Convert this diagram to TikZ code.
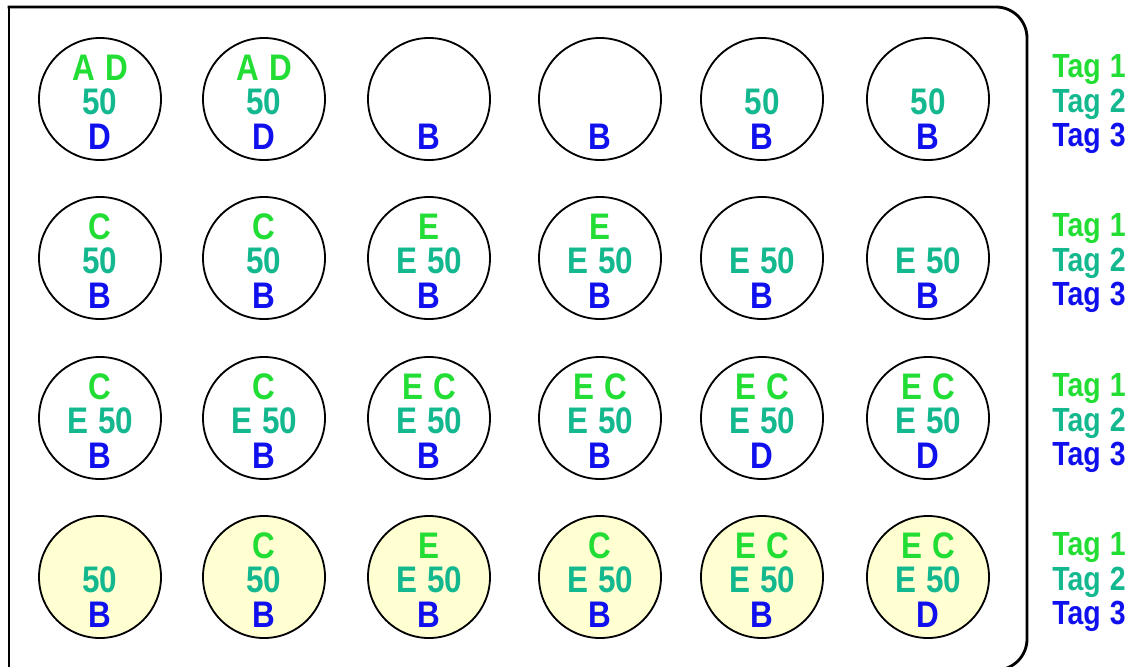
\documentclass[tikz,border=0pt]{standalone}
\usepackage{fontspec}
\setmainfont{Liberation Sans}[FakeStretch=0.85, WordSpace=1.15]
\usetikzlibrary{calc}
\definecolor{tagone}{RGB}{34,221,51}
\definecolor{tagtwo}{RGB}{19,184,143}
\definecolor{tagthree}{RGB}{16,16,238}
\definecolor{wellfill}{RGB}{255,255,210}
\tikzset{
  well/.style={circle, draw=black, line width=1.3pt, fill=white,
    minimum size=3.05cm, inner sep=0pt},
  wellfilled/.style={well, fill=wellfill},
  welltext/.style={anchor=base, inner sep=0pt,
    font=\fontsize{26.3}{26.3}\selectfont\bfseries},
  taglabel/.style={anchor=base west, inner sep=0pt,
    font=\fontsize{23.8}{23.8}\selectfont\bfseries},
  plate/.style={draw=black, line width=2pt, line cap=rect},
}
% name, position, style, tag 1, tag 2, tag 3
\newcommand{\well}[6]{%
  \node[#3] (#1) at (#2) {};
  \node[welltext, text=tagone]   (#1-t1) at ($(#1)+(0,-18.5)$) {#4};
  \node[welltext, text=tagtwo]   (#1-t2) at ($(#1)+(0,15.5)$)  {#5};
  \node[welltext, text=tagthree] (#1-t3) at ($(#1)+(0,50.5)$)  {#6};
}
\newcommand{\taglabels}[2]{%
  \node[taglabel, text=tagone]   (#1-a) at ($(#2)+(0,-22)$) {Tag 1};
  \node[taglabel, text=tagtwo]   (#1-b) at ($(#2)+(0,13)$)  {Tag 2};
  \node[taglabel, text=tagthree] (#1-c) at ($(#2)+(0,47)$)  {Tag 3};
}
\begin{document}
\begin{tikzpicture}[x=0.025cm, y=-0.025cm]
  \useasboundingbox (0,0) rectangle (1140,666);
  \clip (0,0) rectangle (1140,666);

  % ============ Plate outline ============
  \draw[plate, rounded corners=22] (9,7) -- (1027,7) -- (1027,670) -- (9,670);
  \draw[plate] (9,670) -- (9,7);

  % ============ Row 1 (y = 99) ============
  \well{r1c1}{100,99}{well}{A D}{50}{D}
  \well{r1c2}{264,99}{well}{A D}{50}{D}
  \well{r1c3}{429,99}{well}{}{}{B}
  \well{r1c4}{600,99}{well}{}{}{B}
  \well{r1c5}{762,99}{well}{}{50}{B}
  \well{r1c6}{928,99}{well}{}{50}{B}
  \coordinate (row1) at (1052,99);
  \taglabels{tag-r1}{row1}

  % ============ Row 2 (y = 258) ============
  \well{r2c1}{100,258}{well}{C}{50}{B}
  \well{r2c2}{264,258}{well}{C}{50}{B}
  \well{r2c3}{429,258}{well}{E}{E 50}{B}
  \well{r2c4}{600,258}{well}{E}{E 50}{B}
  \well{r2c5}{762,258}{well}{}{E 50}{B}
  \well{r2c6}{928,258}{well}{}{E 50}{B}
  \coordinate (row2) at (1052,258);
  \taglabels{tag-r2}{row2}

  % ============ Row 3 (y = 418) ============
  \well{r3c1}{100,418}{well}{C}{E 50}{B}
  \well{r3c2}{264,418}{well}{C}{E 50}{B}
  \well{r3c3}{429,418}{well}{E C}{E 50}{B}
  \well{r3c4}{600,418}{well}{E C}{E 50}{B}
  \well{r3c5}{762,418}{well}{E C}{E 50}{D}
  \well{r3c6}{928,418}{well}{E C}{E 50}{D}
  \coordinate (row3) at (1052,418);
  \taglabels{tag-r3}{row3}

  % ============ Row 4, filled wells (y = 577) ============
  \well{r4c1}{100,577}{wellfilled}{}{50}{B}
  \well{r4c2}{264,577}{wellfilled}{C}{50}{B}
  \well{r4c3}{429,577}{wellfilled}{E}{E 50}{B}
  \well{r4c4}{600,577}{wellfilled}{C}{E 50}{B}
  \well{r4c5}{762,577}{wellfilled}{E C}{E 50}{B}
  \well{r4c6}{928,577}{wellfilled}{E C}{E 50}{D}
  \coordinate (row4) at (1052,577);
  \taglabels{tag-r4}{row4}

\end{tikzpicture}
\end{document}
